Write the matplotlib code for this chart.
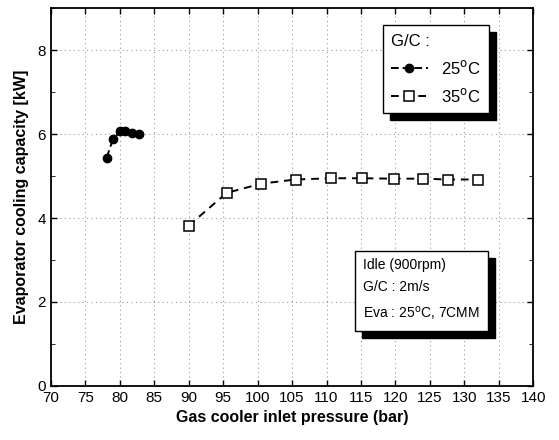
import matplotlib
matplotlib.use("Agg")
import matplotlib.pyplot as plt
import matplotlib.transforms as mtransforms
from matplotlib.ticker import MultipleLocator

plt.rcParams['font.family'] = ['Liberation Sans', 'DejaVu Sans']

# dati
p25 = [78.1, 79.0, 80.1, 80.8, 81.8, 82.8]
q25 = [5.44, 5.88, 6.07, 6.08, 6.02, 6.00]

p35 = [90.0, 95.5, 100.5, 105.5, 110.7, 115.1, 119.8, 124.0, 127.6, 132.0]
q35 = [3.82, 4.60, 4.82, 4.92, 4.95, 4.95, 4.94, 4.94, 4.92, 4.92]

xticks = list(range(70, 141, 5))
yticks = [0, 2, 4, 6, 8]

fig = plt.figure(figsize=(5.59, 4.4), dpi=100)
ax = fig.add_axes([0.091, 0.123, 0.863, 0.858])

ax.plot(p25, q25, ls='--', dashes=(4, 2), color='k', lw=1.4, marker='o', ms=6,
        mfc='k', mec='k', label='25$^{\\rm o}$C')
ax.plot(p35, q35, ls='--', dashes=(4, 3), color='k', lw=1.4, marker='s', ms=6.5,
        mfc='white', mec='k', mew=1.1, label='35$^{\\rm o}$C')

ax.set_xlim(70, 140)
ax.set_ylim(0, 9)
ax.set_xticks(xticks)
ax.set_yticks(yticks)
ax.yaxis.set_minor_locator(MultipleLocator(1))
ax.xaxis.set_minor_locator(MultipleLocator(5))
ax.tick_params(direction='in', length=4, width=1, labelsize=11, top=True, right=True)
ax.tick_params(which='minor', direction='in', length=3, right=True)
ax.grid(True, ls=(0, (1, 3)), color='#999999', lw=0.8)
for s in ax.spines.values():
    s.set_linewidth(1.3)

ax.set_xlabel('Gas cooler inlet pressure (bar)', fontsize=11.5, fontweight='bold', labelpad=4)
ax.set_ylabel('Evaporator cooling capacity [kW]', fontsize=11.5, fontweight='bold', labelpad=6)

leg = ax.legend(loc='upper right', bbox_to_anchor=(0.908, 0.955), borderaxespad=0,
                title='G/C :', alignment='left', fontsize=12, title_fontsize=12,
                frameon=True, fancybox=False, edgecolor='k', handlelength=2.2,
                borderpad=0.5, labelspacing=0.6,
                shadow={'ox': 5, 'oy': -5, 'color': 'k', 'alpha': 1})
leg.get_frame().set_linewidth(1.0)

# riquadro con condizioni di prova, ombra nera
txt = 'Idle (900rpm)\nG/C : 2m/s\nEva : 25$^{\\rm o}$C, 7CMM'
x0, y0 = 0.647, 0.168
off = mtransforms.offset_copy(ax.transAxes, fig=fig, x=5, y=-5, units='points')
ax.text(x0, y0, txt, transform=off, fontsize=10, color='k', linespacing=1.75,
        va='bottom', ha='left',
        bbox=dict(boxstyle='square,pad=0.6', fc='k', ec='k'), zorder=5)
ax.text(x0, y0, txt, transform=ax.transAxes, fontsize=10, color='k', linespacing=1.75,
        va='bottom', ha='left',
        bbox=dict(boxstyle='square,pad=0.6', fc='white', ec='k', lw=1.0), zorder=6)

plt.savefig('out.png', dpi=100)
